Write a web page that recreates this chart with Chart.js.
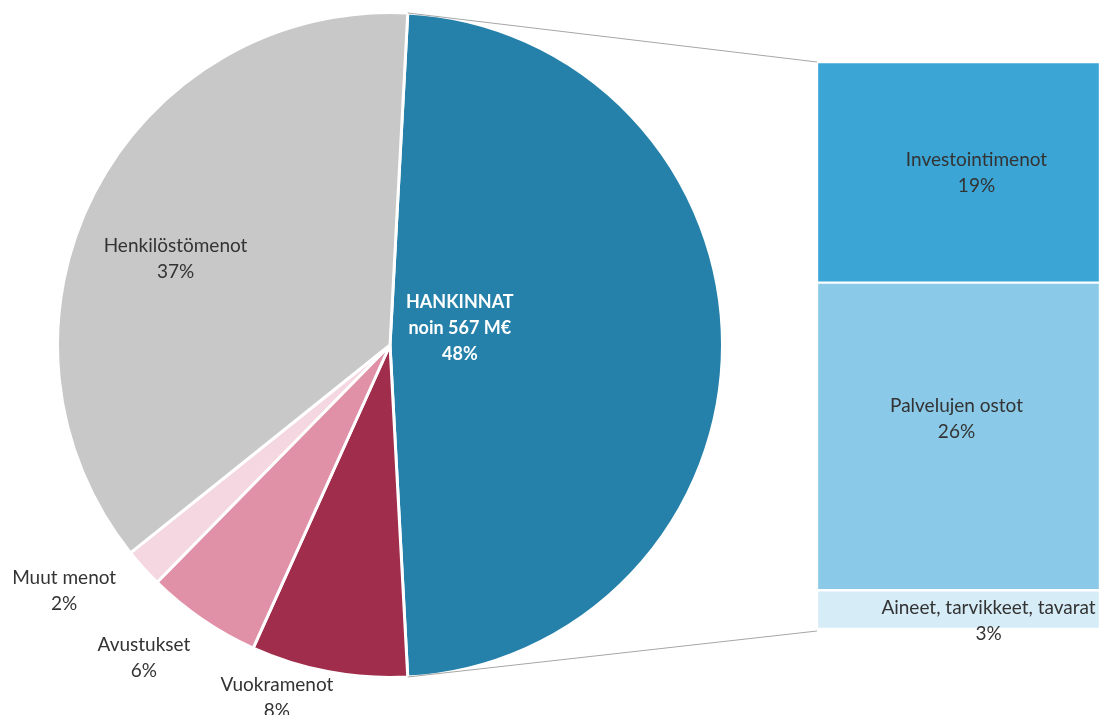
<!DOCTYPE html>
<html><head><meta charset="utf-8">
<script src="https://cdn.jsdelivr.net/npm/chart.js@4"></script>
<style>
html,body{margin:0;padding:0;background:#fff;overflow:hidden;width:1102px;height:715px;}
#pieBox{position:absolute;left:56px;top:11px;width:668px;height:668px;}
#barBox{position:absolute;left:817px;top:62px;width:283px;height:567px;}
#overlay{position:absolute;left:0;top:0;width:1102px;height:715px;pointer-events:none;}
</style></head><body>
<div id="pieBox"><canvas id="pie"></canvas></div>
<div id="barBox"><canvas id="bar"></canvas></div>
<canvas id="overlay" width="1102" height="715"></canvas>
<script>
// ---- data ----
const pieLabels = ["HANKINNAT", "Vuokramenot", "Avustukset", "Muut menot", "Henkilöstömenot"];
const pieValues = [48.3, 7.6, 5.6, 1.9, 36.6];
const pieColors = ["#2581AA", "#A02D4C", "#E091A7", "#F4D7E0", "#C8C8C8"];
const hankinnatNote = "noin 567 M€";
const barLabels = ["Investointimenot", "Palvelujen ostot", "Aineet, tarvikkeet, tavarat"];
const barValues = [18.8, 26.2, 3.3];
const barColors = ["#3BA5D6", "#8ACAE8", "#D6ECF7"];

// ---- label layout (offsets in units of pie radius from the pie centre / px from bar segment centre) ----
const pieLabelPos = [[0.21, -0.05], [-0.34, 1.06], [-0.74, 0.94], [-0.98, 0.74], [-0.645, -0.26]];
const barLabelPos = [[18, 1], [-2, -18], [30, 11]];
const TEXT = "#333333";
const FONT = "Lato, 'Open Sans', sans-serif";
const LINE = 26;

const total = pieValues.reduce((a, b) => a + b, 0);
const rotation = 90 - (pieValues[0] / total) * 180;

const pie = new Chart(document.getElementById('pie'), {
  type: 'pie',
  data: { labels: pieLabels, datasets: [{ data: pieValues, backgroundColor: pieColors, borderColor: '#ffffff', borderWidth: 3 }] },
  options: {
    responsive: true, maintainAspectRatio: false, animation: false,
    rotation: rotation,
    layout: { padding: 0 },
    plugins: { legend: { display: false }, tooltip: { enabled: false } }
  }
});

const barSum = barValues.reduce((a, b) => a + b, 0);
const bar = new Chart(document.getElementById('bar'), {
  type: 'bar',
  data: {
    labels: [''],
    datasets: barValues.map((v, i) => ({ label: barLabels[i], data: [v], backgroundColor: barColors[i], borderColor: '#ffffff', borderWidth: 1.5, borderSkipped: false, barPercentage: 1, categoryPercentage: 1 }))
  },
  options: {
    responsive: true, maintainAspectRatio: false, animation: false,
    layout: { padding: 0 },
    scales: {
      x: { stacked: true, display: false },
      y: { stacked: true, display: false, min: 0, max: barSum, reverse: true }
    },
    plugins: { legend: { display: false }, tooltip: { enabled: false } }
  }
});

function drawOverlay() {
  const ov = document.getElementById('overlay');
  const ctx = ov.getContext('2d');
  ctx.clearRect(0, 0, ov.width, ov.height);
  const pr = document.getElementById('pie').getBoundingClientRect();
  const br = document.getElementById('bar').getBoundingClientRect();
  const arcs = pie.getDatasetMeta(0).data;
  const a0 = arcs[0];
  const cx = pr.left + a0.x, cy = pr.top + a0.y, r = a0.outerRadius;

  // connector lines
  const bMeta = barValues.map((_, i) => bar.getDatasetMeta(i).data[0]);
  const first = bMeta[0], last = bMeta[bMeta.length - 1];
  const barLeft = br.left + first.x - first.width / 2;
  const barTop = br.top + Math.min(first.y, first.base);
  const barBottom = br.top + Math.max(last.y, last.base);
  ctx.strokeStyle = '#A6A6A6';
  ctx.lineWidth = 1;
  ctx.beginPath();
  ctx.moveTo(cx + r * Math.cos(a0.startAngle), cy + r * Math.sin(a0.startAngle));
  ctx.lineTo(barLeft, barTop);
  ctx.moveTo(cx + r * Math.cos(a0.endAngle), cy + r * Math.sin(a0.endAngle));
  ctx.lineTo(barLeft, barBottom + 2);
  ctx.stroke();

  ctx.textAlign = 'center';
  ctx.textBaseline = 'middle';
  // pie labels
  pieLabels.forEach((lab, i) => {
    const pct = Math.round(pieValues[i] / total * 100) + '%';
    const x = cx + pieLabelPos[i][0] * r, y = cy + pieLabelPos[i][1] * r;
    let lines = [lab, pct];
    if (i === 0) {
      lines = [lab, hankinnatNote, pct];
      ctx.font = 'bold 18px ' + FONT;
      ctx.fillStyle = '#ffffff';
    } else {
      ctx.font = '19px ' + FONT;
      ctx.fillStyle = TEXT;
    }
    const y0 = y - (lines.length - 1) * LINE / 2;
    lines.forEach((t, k) => ctx.fillText(t, x, y0 + k * LINE));
  });
  // bar labels
  ctx.font = '19px ' + FONT;
  ctx.fillStyle = TEXT;
  bMeta.forEach((el, i) => {
    const pct = Math.round(barValues[i] / total * 100) + '%';
    const x = br.left + el.x + barLabelPos[i][0];
    const y = br.top + (el.y + el.base) / 2 + barLabelPos[i][1];
    ctx.fillText(barLabels[i], x, y - LINE / 2);
    ctx.fillText(pct, x, y + LINE / 2);
  });
}
drawOverlay();
if (document.fonts && document.fonts.ready) document.fonts.ready.then(drawOverlay);
</script>
</body></html>
